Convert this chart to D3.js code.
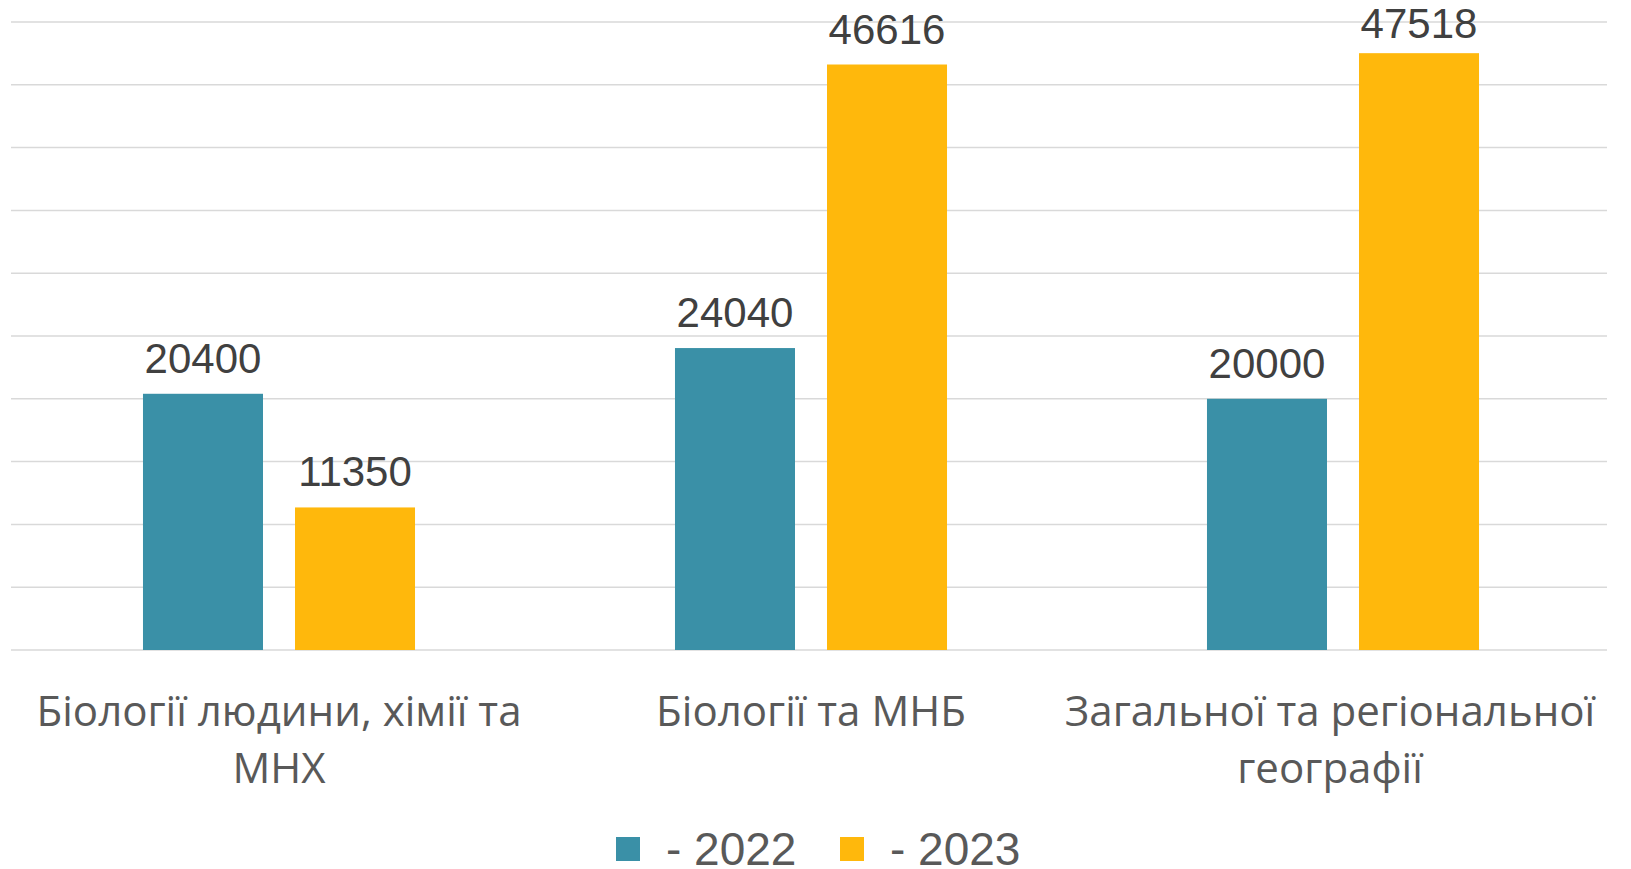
<!DOCTYPE html>
<html><head><meta charset="utf-8">
<script src="https://cdn.jsdelivr.net/npm/d3@7"></script>
<style>html,body{margin:0;padding:0;background:#fff;overflow:hidden}</style>
</head><body>
<svg id="c" width="1631" height="869"></svg>
<script>
const categories = [["Біології людини, хімії та", "МНХ"], ["Біології та МНБ"], ["Загальної та регіональної", "географії"]];
const seriesNames = ["- 2022", "- 2023"];
const values2022 = [20400, 24040, 20000];
const values2023 = [11350, 46616, 47518];
const yTicks = [0, 5000, 10000, 15000, 20000, 25000, 30000, 35000, 40000, 45000, 50000];
const colors = ["#3A90A7", "#FFB80C"];

(function () {
const svg = d3.select("#c");
const mLeft = 11, mRight = 1607, mTop = 22, mBottom = 650;
const catKeys = categories.map((c, i) => i);
const x0 = d3.scaleBand().domain(catKeys).range([mLeft + 2, mRight + 2]).padding(0);
const x1 = d3.scaleBand().domain([0, 1]).range([0, x0.bandwidth()]).paddingInner(32/152).paddingOuter(0.855);
const y = d3.scaleLinear().domain([0, 50000]).range([mBottom, mTop]);

svg.append("g").selectAll("line").data(yTicks).join("line")
  .attr("x1", mLeft).attr("x2", mRight)
  .attr("y1", d => y(d)).attr("y2", d => y(d))
  .attr("stroke", "#d9d9d9").attr("stroke-width", 1.5);

const series = [values2022, values2023];
const g = svg.append("g");
series.forEach((vals, s) => {
  g.selectAll(null).data(vals).join("rect")
    .attr("x", (d, i) => x0(i) + x1(s))
    .attr("width", x1.bandwidth())
    .attr("y", d => y(d))
    .attr("height", d => y(0) - y(d))
    .attr("fill", colors[s]);
  g.selectAll(null).data(vals).join("text")
    .attr("x", (d, i) => x0(i) + x1(s) + x1.bandwidth()/2)
    .attr("y", d => Math.max(y(d) - 21, 38))
    .attr("text-anchor", "middle")
    .attr("font-family", "Liberation Sans, Arial, sans-serif")
    .attr("font-size", 42)
    .attr("fill", "#404040")
    .text(d => d);
});

const catFont = "'Open Sans', sans-serif";
const probe = svg.append("text").attr("font-family", catFont).attr("font-size", 100).text("Біології та МНБ");
const w100 = probe.node().getComputedTextLength();
probe.remove();
const catSize = 100 * 310 / w100;
const cg = svg.append("g");
const labelShift = [0, 0, -13];
categories.forEach((lines, i) => {
  const t = cg.append("text")
    .attr("text-anchor", "middle")
    .attr("font-family", catFont)
    .attr("font-size", catSize)
    .attr("fill", "#595959");
  lines.forEach((ln, j) => {
    t.append("tspan").attr("x", x0(i) + x0.bandwidth()/2 + labelShift[i]).attr("y", 726 + j*57).text(ln);
  });
});

const lg = svg.append("g");
const legendX = [616, 840];
seriesNames.forEach((n, s) => {
  lg.append("rect").attr("x", legendX[s]).attr("y", 837).attr("width", 24).attr("height", 24).attr("fill", colors[s]);
  lg.append("text").attr("x", legendX[s] + 50).attr("y", 865)
    .attr("font-family", "Liberation Sans, Arial, sans-serif")
    .attr("font-size", 46).attr("fill", "#595959").text(n);
});
})();
</script>
</body></html>
